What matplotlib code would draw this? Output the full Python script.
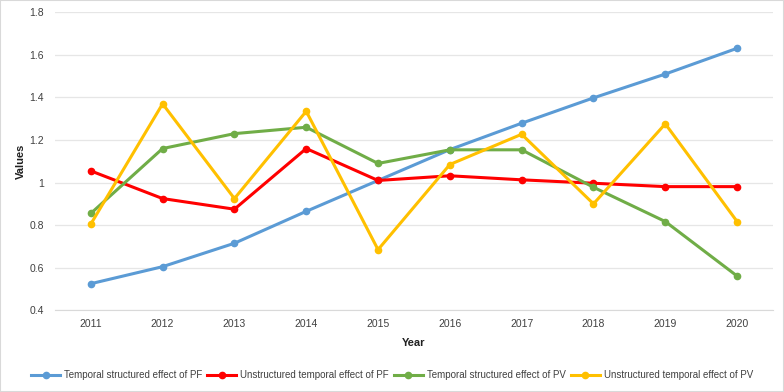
import matplotlib
matplotlib.use("Agg")
import matplotlib.pyplot as plt
from matplotlib.patches import Rectangle

years = ["2011", "2012", "2013", "2014", "2015", "2016", "2017", "2018", "2019", "2020"]
pf_structured = [0.525, 0.605, 0.715, 0.865, 1.01, 1.155, 1.279, 1.398, 1.51, 1.631]
pf_unstructured = [1.055, 0.925, 0.875, 1.16, 1.01, 1.032, 1.013, 0.997, 0.981, 0.981]
pv_structured = [0.855, 1.16, 1.23, 1.26, 1.09, 1.154, 1.154, 0.978, 0.817, 0.561]
pv_unstructured = [0.805, 1.37, 0.925, 1.335, 0.685, 1.085, 1.227, 0.9, 1.276, 0.817]
yticks = [0.4, 0.6, 0.8, 1.0, 1.2, 1.4, 1.6, 1.8]
ytick_labels = ["0.4", "0.6", "0.8", "1", "1.2", "1.4", "1.6", "1.8"]

series = [
    ("Temporal structured effect of PF", pf_structured, "#5B9BD5"),
    ("Unstructured temporal effect of PF", pf_unstructured, "#FF0000"),
    ("Temporal structured effect of PV", pv_structured, "#70AD47"),
    ("Unstructured temporal effect of PV", pv_unstructured, "#FFC000"),
]

plt.rcParams['font.family'] = ['Liberation Sans', 'DejaVu Sans']

fig = plt.figure(figsize=(7.84, 3.92), dpi=100)
ax = fig.add_axes([0.070, 0.2084, 0.916, 0.7602])

x = list(range(len(years)))
handles = []
for name, vals, color in series:
    h, = ax.plot(x, vals, color=color, lw=2.2, marker='o', ms=4.5, label=name)
    handles.append(h)

ax.set_xlim(-0.5, len(years) - 0.5)
ax.set_ylim(0.4, 1.8)
ax.set_yticks(yticks)
ax.set_yticklabels(ytick_labels)
ax.set_xticks(x)
ax.set_xticklabels(years)
ax.grid(axis='y', color='#E6E6E6', lw=0.9)
ax.set_axisbelow(True)
for s in ['top', 'right', 'left']:
    ax.spines[s].set_visible(False)
ax.spines['bottom'].set_color('#D9D9D9')
ax.tick_params(axis='both', length=0, labelsize=7.5, colors='#404040')
ax.tick_params(axis='x', pad=6)
ax.tick_params(axis='y', pad=8)

ax.set_ylabel("Values", fontsize=8, fontweight='bold', color='#202020', labelpad=2)
ax.set_xlabel("Year", fontsize=8, fontweight='bold', color='#202020', labelpad=7)

fig.legend(handles=handles, loc='center', bbox_to_anchor=(0.5, 1 - 375 / 392), ncol=4,
           frameon=False, fontsize=7, handlelength=3.0, columnspacing=0.5,
           handletextpad=0.4, labelcolor='#404040')

fig.patches.append(Rectangle((0, 0), 1, 1, transform=fig.transFigure, fill=False,
                             edgecolor='#D9D9D9', lw=1.5))

fig.savefig("out.png", dpi=100)
